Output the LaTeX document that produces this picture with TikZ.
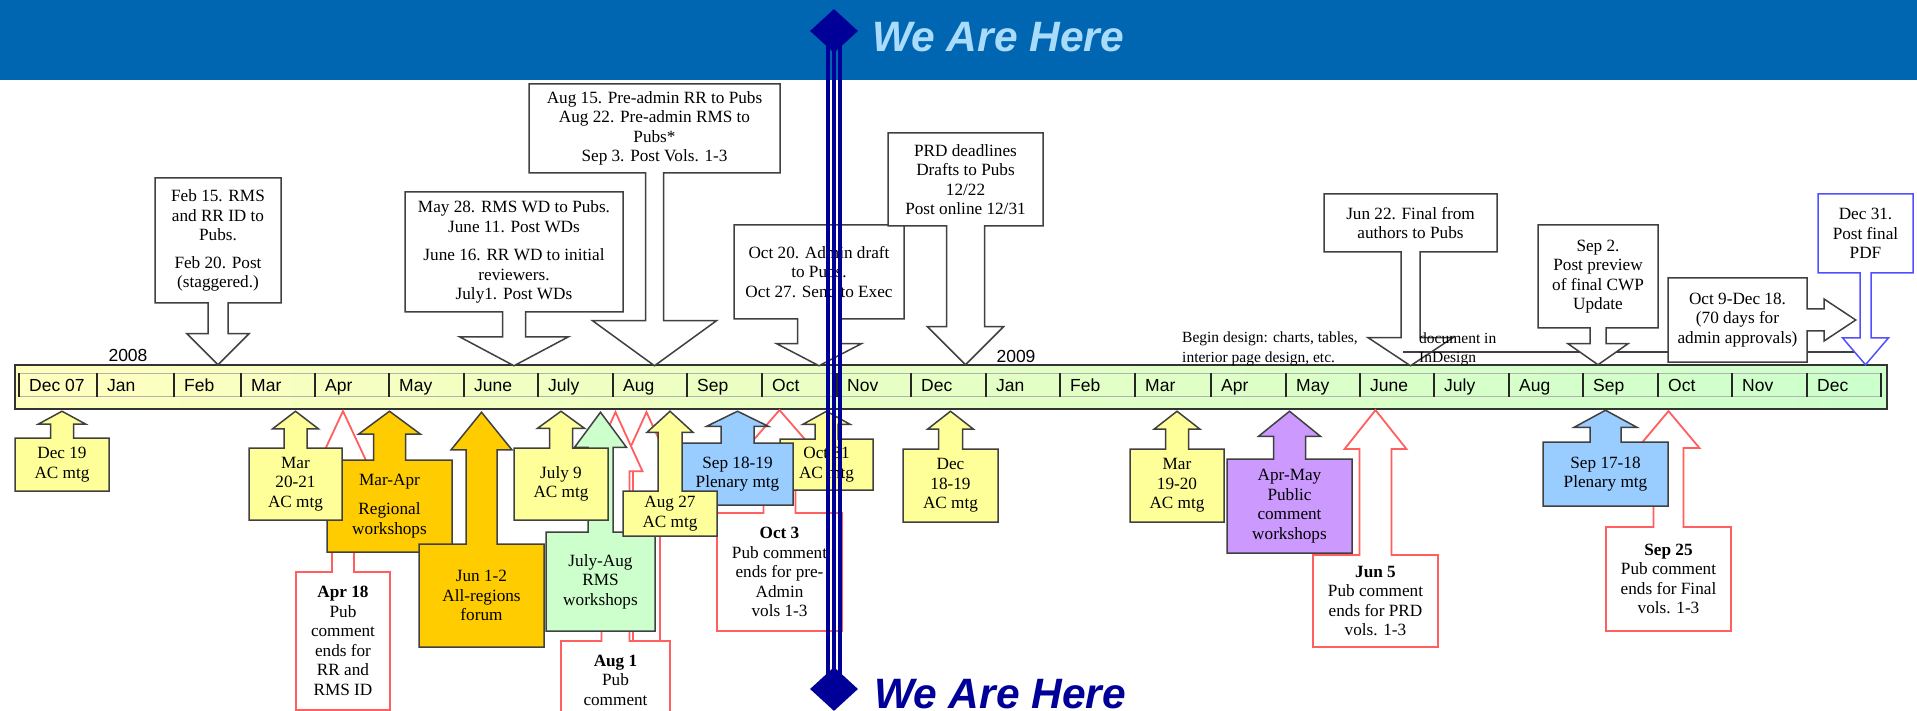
\documentclass[tikz,border=0pt]{standalone}
\usepackage{fontspec}
\setmainfont{Liberation Serif}
\setsansfont{Liberation Sans}
\usetikzlibrary{shapes.arrows,shapes.geometric}
\definecolor{banner}{RGB}{0,102,178}
\definecolor{herelight}{RGB}{168,220,250}
\definecolor{heredark}{RGB}{0,0,153}
\definecolor{acyellow}{RGB}{255,255,153}
\definecolor{wsorange}{RGB}{255,204,0}
\definecolor{rmsgreen}{RGB}{204,255,204}
\definecolor{plenblue}{RGB}{153,204,255}
\definecolor{pubpurple}{RGB}{204,153,255}
\definecolor{pubred}{RGB}{255,95,95}
\definecolor{pdfblue}{RGB}{80,80,255}
\definecolor{boxline}{RGB}{64,64,64}
\definecolor{barleft}{RGB}{255,255,190}
\definecolor{barright}{RGB}{204,255,204}
\tikzset{
  basic/.style={
  arrow box,
  draw=boxline,
  line width=1.5pt,
  fill=white,
  align=center,
  inner sep=1pt,
  font=\fontsize{17.2}{19.5}\selectfont,
  },
  boxdim/.style n args={4}{minimum width=#1, minimum height=#2,
    arrow box shaft width=#3, arrow box head extend=#4},
  tipdown/.style={arrow box arrows={north:-1pt, east:-1pt, west:-1pt, south:#1 from border}},
  tipup/.style={arrow box arrows={north:#1 from border, east:-1pt, west:-1pt, south:-1pt}},
  tipright/.style={arrow box arrows={north:-1pt, east:#1 from border, west:-1pt, south:-1pt}},
  tipangle/.style={arrow box tip angle=#1},
  acmtg/.style={basic, fill=acyellow},
  workshop/.style={basic, fill=wsorange},
  rms/.style={basic, fill=rmsgreen},
  plenary/.style={basic, fill=plenblue},
  pubws/.style={basic, fill=pubpurple},
  pubend/.style={basic, draw=pubred, line width=1.8pt},
  month/.style={font=\sffamily\fontsize{17.5}{20}\selectfont, anchor=base west, inner sep=0pt},
  note/.style={font=\fontsize{15.5}{18}\selectfont, anchor=base west, inner sep=0pt},
  heretext/.style={font=\sffamily\bfseries\itshape\fontsize{42.5}{46}\selectfont, anchor=base west, inner sep=0pt},
  pinshape/.style={diamond, fill=heredark, minimum width=48pt, minimum height=44pt, inner sep=0pt},
}
\begin{document}
\begin{tikzpicture}[x=1pt, y=-1pt]
\useasboundingbox (0,0) rectangle (1917,711);

% banner
\fill[banner] (0,0) rectangle (1917,80);
\node[heretext, text=herelight] (hereTop) at (872,52) {We Are Here};

% the time bar
\fill[left color=barleft, right color=barright] (15,365) rectangle (1887,409);
\draw[black!80, line width=1.5pt] (15,365) rectangle (1887,409);
\draw[black!30, line width=1pt] (19,373) -- (1881,373) (19,396) -- (1881,396);
\foreach \t in {19,97,174,241,315,389,464,538,613,687,762,837,911,986,1060,1135,1211,1286,1360,1434,1509,1583,1658,1732,1807,1881}
  \draw[black!85, line width=1.8pt] (\t,373) -- (\t,397);
\foreach \t/\m [count=\i] in {19/Dec 07,97/Jan,174/Feb,241/Mar,315/Apr,389/May,464/June,538/July,613/Aug,687/Sep,762/Oct,837/Nov,911/Dec,986/Jan,1060/Feb,1135/Mar,1211/Apr,1286/May,1360/June,1434/July,1509/Aug,1583/Sep,1658/Oct,1732/Nov,1807/Dec}
  \node[month] (mon\i) at (\t+10,391) {\m};
\node[month, anchor=base] (y2008) at (128,361) {2008};
\node[month, anchor=base] (y2009) at (1016,362) {2009};

% deadlines above the bar
\node[basic, boxdim={126pt}{125pt}{20pt}{21pt}, tipdown=61pt, tipangle=90] (feb) at (218,240.5)
  {Feb 15. RMS\\and RR ID to\\Pubs.\\[8pt]Feb 20. Post\\(staggered.)};
\node[basic, boxdim={218pt}{120pt}{23pt}{43pt}, tipdown=53pt, tipangle=124] (may) at (514,252)
  {May 28. RMS WD to Pubs.\\June 11. Post WDs\\[9pt]June 16. RR WD to initial\\reviewers.\\July1. Post WDs};
\node[basic, boxdim={251pt}{89pt}{18pt}{53pt}, tipdown=192pt, tipangle=108] (aug) at (654.5,128.5)
  {Aug 15. Pre-admin RR to Pubs\\Aug 22. Pre-admin RMS to\\Pubs*\\Sep 3. Post Vols. 1-3};
\node[basic, boxdim={170pt}{94pt}{43pt}{21pt}, tipdown=46pt, tipangle=125] (oct) at (819,272)
  {Oct 20. Admin draft\\to Pubs.\\Oct 27. Send to Exec};
\node[basic, boxdim={155pt}{93pt}{38pt}{19pt}, tipdown=138pt, tipangle=90] (prd) at (965.5,179.5)
  {PRD deadlines\\Drafts to Pubs\\12/22\\Post online 12/31};
\node[basic, boxdim={173pt}{58pt}{19pt}{33pt}, tipdown=113pt, tipangle=113] (jun22) at (1410.5,223)
  {Jun 22. Final from\\authors to Pubs};

% design span
\node[note] (design1) at (1182,342) {Begin design: charts, tables,};
\node[note] (design2) at (1182,362) {interior page design, etc.};
\coordinate (spanA) at (1403,352);
\coordinate (spanB) at (1860,352);
\draw[boxline, line width=1.5pt] (spanA) -- (spanB);
\node[note] (indes1) at (1419,343) {document in};
\node[note] (indes2) at (1419,362) {InDesign};

\node[basic, boxdim={120pt}{103pt}{16pt}{22pt}, tipdown=36pt, tipangle=110] (sep2) at (1598,276.5)
  {Sep 2.\\Post preview\\of final CWP\\Update};
\node[basic, boxdim={139pt}{84pt}{22pt}{10pt}, tipright=48pt, tipangle=67] (oct9) at (1737.5,320)
  {Oct 9-Dec 18.\\(70 days for\\admin approvals)};
\node[basic, draw=pdfblue, boxdim={95pt}{79pt}{11pt}{17.5pt}, tipdown=91pt, tipangle=81] (dec31) at (1865.5,233.5)
  {Dec 31.\\Post final\\PDF};

% end of public comment (behind the rest)
\node[pubend, boxdim={94pt}{138pt}{22pt}{16pt}, tipup=160pt, tipangle=50] (apr18) at (343,641)
  {\textbf{Apr 18}\\Pub\\comment\\ends for\\RR and\\RMS ID};
\node[pubend, boxdim={44pt}{56pt}{27pt}{13pt}, tipup=249pt, tipangle=49] (aug1b) at (646.5,690) {};
\node[pubend, boxdim={109pt}{78pt}{28pt}{13pt}, tipup=228pt, tipangle=49] (aug1) at (615.5,680)
  {\textbf{Aug 1}\\Pub\\comment};
\node[pubend, boxdim={125pt}{118pt}{32pt}{15pt}, tipup=102pt, tipangle=82] (oct3) at (779.5,572)
  {\textbf{Oct 3}\\Pub comment\\ends for pre-\\Admin\\vols 1-3};
\node[pubend, boxdim={125pt}{92pt}{32pt}{15pt}, tipup=144pt, tipangle=77] (jun5) at (1375.5,601)
  {\textbf{Jun 5}\\Pub comment\\ends for PRD\\vols. 1-3};
\node[pubend, boxdim={125pt}{104pt}{30pt}{16pt}, tipup=115pt, tipangle=80] (sep25) at (1668.5,579)
  {\textbf{Sep 25}\\Pub comment\\ends for Final\\vols. 1-3};

% meetings and workshops below the bar
\node[workshop, boxdim={125pt}{92pt}{32pt}{15pt}, tipup=48pt, tipangle=107] (marapr) at (389.5,506)
  {Mar-Apr\\[10pt]Regional\\workshops};
\node[workshop, boxdim={125pt}{103pt}{31pt}{15pt}, tipup=131pt, tipangle=78] (jun1) at (481.5,595.5)
  {Jun 1-2\\All-regions\\forum};
\node[acmtg, boxdim={93pt}{72pt}{23pt}{11.5pt}, tipup=36pt, tipangle=105] (mar20) at (295.5,484)
  {Mar\\20-21\\AC mtg};
\node[acmtg, boxdim={94pt}{53pt}{23pt}{12pt}, tipup=26pt, tipangle=123] (dec19) at (62,464.5)
  {Dec 19\\AC mtg};
\node[rms, boxdim={109pt}{99pt}{25pt}{13.5pt}, tipup=119pt, tipangle=73] (julaug) at (600.5,581.5)
  {July-Aug\\RMS\\workshops};
\node[acmtg, boxdim={94pt}{72pt}{23pt}{12pt}, tipup=36pt, tipangle=108] (jul9) at (561,484)
  {July 9\\AC mtg};
\node[acmtg, boxdim={93pt}{51pt}{23pt}{12pt}, tipup=27pt, tipangle=122] (oct31) at (826.5,464.5)
  {Oct 31\\AC mtg};
\node[plenary, boxdim={111pt}{62pt}{33pt}{14.5pt}, tipup=31pt, tipangle=128] (sep18) at (737.5,474)
  {Sep 18-19\\Plenary mtg};
\node[acmtg, boxdim={94pt}{45pt}{24pt}{11pt}, tipup=79pt, tipangle=95] (aug27) at (670,513.5)
  {Aug 27\\AC mtg};
\node[acmtg, boxdim={95pt}{73pt}{24pt}{11pt}, tipup=37pt, tipangle=104] (dec18) at (950.5,485.5)
  {Dec\\18-19\\AC mtg};
\node[acmtg, boxdim={94pt}{73pt}{23pt}{11.5pt}, tipup=37pt, tipangle=104] (mar19) at (1177,485.5)
  {Mar\\19-20\\AC mtg};
\node[pubws, boxdim={125pt}{94pt}{32pt}{15pt}, tipup=47pt, tipangle=102] (aprmay) at (1289.5,506)
  {Apr-May\\Public\\comment\\workshops};
\node[plenary, boxdim={125pt}{64pt}{31pt}{16pt}, tipup=31pt, tipangle=123] (sep17) at (1605.5,474)
  {Sep 17-18\\Plenary mtg};

% we are here
\node[pinshape] (pinTop) at (834,31) {};
\node[pinshape] (pinBot) at (834,689) {};
\foreach \dx in {-6,0,6}
  \draw[heredark, line width=3.2pt] ([xshift=\dx pt, yshift=8pt]pinTop.south) -- ([xshift=\dx pt, yshift=-8pt]pinBot.north);
\node[heretext, text=heredark] (hereBot) at (874,708) {We Are Here};

\end{tikzpicture}
\end{document}
